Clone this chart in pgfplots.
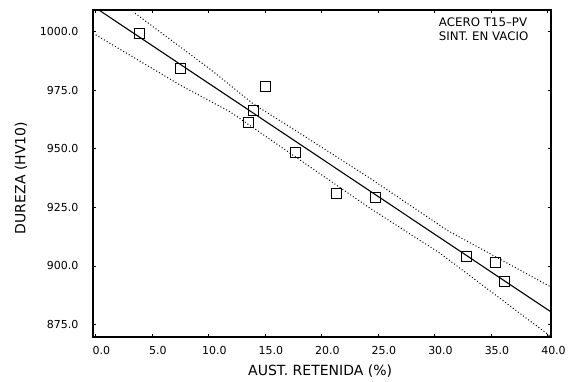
\documentclass[border=0pt]{standalone}
\usepackage{fontspec}
\setmainfont{DejaVu Sans}
\usepackage{pgfplots}
\pgfplotsset{compat=1.18}
\begin{document}
\begin{tikzpicture}
\begin{axis}[
  scale only axis, width=458pt, height=327pt,
  xmin=-0.22, xmax=40.31, ymin=869.7, ymax=1009.2,
  xtick={0,5,...,40}, ytick={875,900,...,1000},
  tick align=inside, major tick length=3pt,
  tick style={line width=0.8pt, black},
  xtick pos=both, ytick pos=both,
  /pgf/number format/assume math mode=true,
  xticklabel={\pgfmathprintnumber[fixed,precision=1,fixed zerofill]{\tick}},
  yticklabel={\pgfmathprintnumber[fixed,precision=1,fixed zerofill,set thousands separator={}]{\tick}},
  xticklabel style={font=\fontsize{11}{11}\selectfont, xshift=6pt, yshift=-6pt},
  yticklabel style={font=\fontsize{11}{11}\selectfont, xshift=-11pt},
  axis line style={line width=1.3pt},
  xlabel={AUST. RETENIDA (\%)}, ylabel={DUREZA (HV10)},
  label style={font=\fontsize{14}{14}\selectfont},
  xlabel style={at={(axis description cs:0.496,-0.105)}, anchor=center},
  ylabel style={at={(axis description cs:-0.157,0.486)}, anchor=center},
]
\coordinate (SW) at (rel axis cs:0,0);
% fitted line
\addplot[black, line width=1.1pt] coordinates {(0.3,1009.2) (40.31,880.4)};
% upper confidence band
\addplot[black, line width=1pt, dash pattern=on 1pt off 2.2pt] coordinates {
  (3.5,1007.8) (10.13,984.0) (14.0,969.0) (17.8,957.5) (24.3,937.4) (31.1,915.3) (40.31,891.0)};
% lower confidence band
\addplot[black, line width=1pt, dash pattern=on 1pt off 2.2pt] coordinates {
  (-0.22,999.3) (7.48,977.2) (11.9,965.8) (17.8,946.2) (24.3,924.6) (30.5,905.4) (40.31,869.8)};
% data
\addplot[only marks, mark=square, mark size=5pt, mark options={line width=0.9pt, black}] coordinates {
  (3.9,999.2) (7.5,984.3) (15.06,976.7) (14.0,966.5) (13.5,961.3) (17.7,948.5)
  (21.3,931.0) (24.8,929.3) (32.8,904.2) (35.4,901.4) (36.2,893.3)};
\node[anchor=north west, align=left, inner sep=0pt, font=\fontsize{11.8}{13.4}\selectfont]
  at (rel axis cs:0.755,0.976) {ACERO T15--PV\\SINT. EN VACIO};
\end{axis}
\pgfresetboundingbox
\path (SW) ++(-93pt,-45pt) rectangle ++(572pt,382pt);
\end{tikzpicture}
\end{document}
